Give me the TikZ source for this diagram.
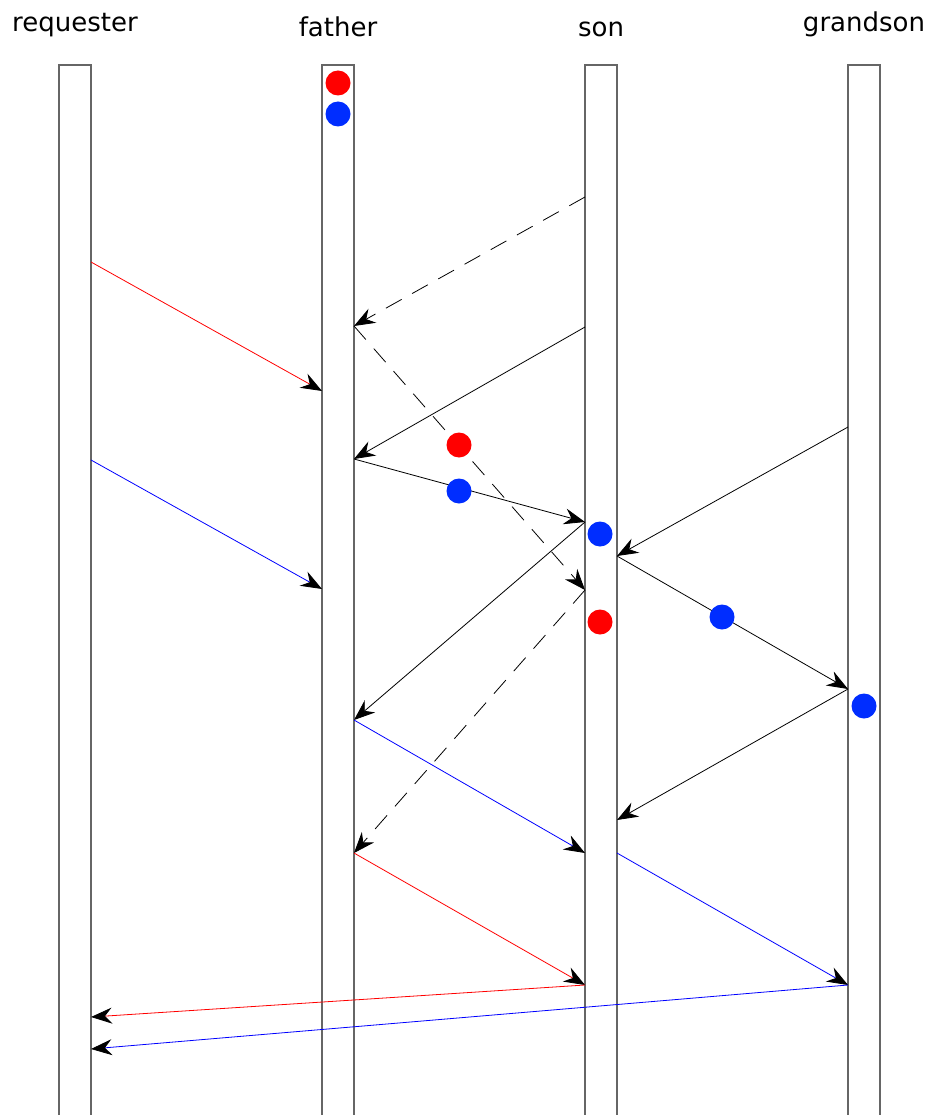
\documentclass[tikz,border=0pt]{standalone}
\usepackage{fontspec}
\setmainfont{DejaVu Sans}
\usetikzlibrary{arrows.meta}
\tikzset{
    lifeline/.style={draw=black!60, line width=1.1pt},
    label/.style={anchor=base, font=\fontsize{26}{30}\selectfont},
    msg/.style={line width=0.8pt, -{Stealth[length=21pt, width=16pt, inset=7pt, color=black]}},
    ghost/.style={msg, dash pattern=on 18pt off 12pt},
    token/.style={circle, inner sep=0pt, minimum size=25pt},
    redtok/.style={token, fill={rgb,255:red,255;green,0;blue,0}},
    bluetok/.style={token, fill={rgb,255:red,0;green,45;blue,255}}
}
\begin{document}
\begin{tikzpicture}[x=1pt, y=-1pt]
    \useasboundingbox (0,0) rectangle (927,1115);

    % Lifelines
    \node[label] (requester) at (75,32) {requester};
    \node[label] (father) at (338,37) {father};
    \node[label] (son) at (601,37) {son};
    \node[label] (grandson) at (864,32) {grandson};
    \draw[lifeline] (59,1115) |- (91,65) -- (91,1115);
    \draw[lifeline] (322,1115) |- (354,65) -- (354,1115);
    \draw[lifeline] (585,1115) |- (617,65) -- (617,1115);
    \draw[lifeline] (848,1115) |- (880,65) -- (880,1115);

    % Points on the lifelines
    \coordinate (rR262) at (91,262);  \coordinate (rR460) at (91,460);
    \coordinate (rR1017) at (91,1017); \coordinate (rR1049) at (91,1049);
    \coordinate (fL391) at (322,391); \coordinate (fL589) at (322,589);
    \coordinate (fR326) at (354,326); \coordinate (fR459) at (354,459);
    \coordinate (fR720) at (354,720); \coordinate (fR853) at (354,853);
    \coordinate (sL197) at (585,197); \coordinate (sL327) at (585,327);
    \coordinate (sL522) at (585,522); \coordinate (sL590) at (585,590);
    \coordinate (sL853) at (585,853); \coordinate (sL985) at (585,985);
    \coordinate (sR556) at (617,556); \coordinate (sR820) at (617,820);
    \coordinate (sR853) at (617,853);
    \coordinate (gL427) at (848,427); \coordinate (gL689) at (848,689);
    \coordinate (gL985) at (848,985);

    % Messages
    \draw[ghost] (sL197) -- (fR326);
    \draw[ghost] (fR326) -- (sL590);
    \draw[ghost] (sL590) -- (fR853);
    \draw[msg, red] (rR262) -- (fL391);
    \draw[msg, blue] (rR460) -- (fL589);
    \draw[msg] (sL327) -- (fR459);
    \draw[msg] (fR459) -- (sL522);
    \draw[msg] (gL427) -- (sR556);
    \draw[msg] (sR556) -- (gL689);
    \draw[msg] (sL522) -- (fR720);
    \draw[msg] (gL689) -- (sR820);
    \draw[msg, blue] (fR720) -- (sL853);
    \draw[msg, red] (fR853) -- (sL985);
    \draw[msg, blue] (sR853) -- (gL985);
    \draw[msg, red] (sL985) -- (rR1017);
    \draw[msg, blue] (gL985) -- (rR1049);

    % Tokens
    \node[redtok] (t1) at (338,83) {};
    \node[bluetok] (t2) at (338,114) {};
    \node[redtok] (t3) at (459,445) {};
    \node[bluetok] (t4) at (459,491) {};
    \node[bluetok] (t5) at (600,534) {};
    \node[redtok] (t6) at (600,622) {};
    \node[bluetok] (t7) at (722,617) {};
    \node[bluetok] (t8) at (864,706) {};
\end{tikzpicture}
\end{document}
